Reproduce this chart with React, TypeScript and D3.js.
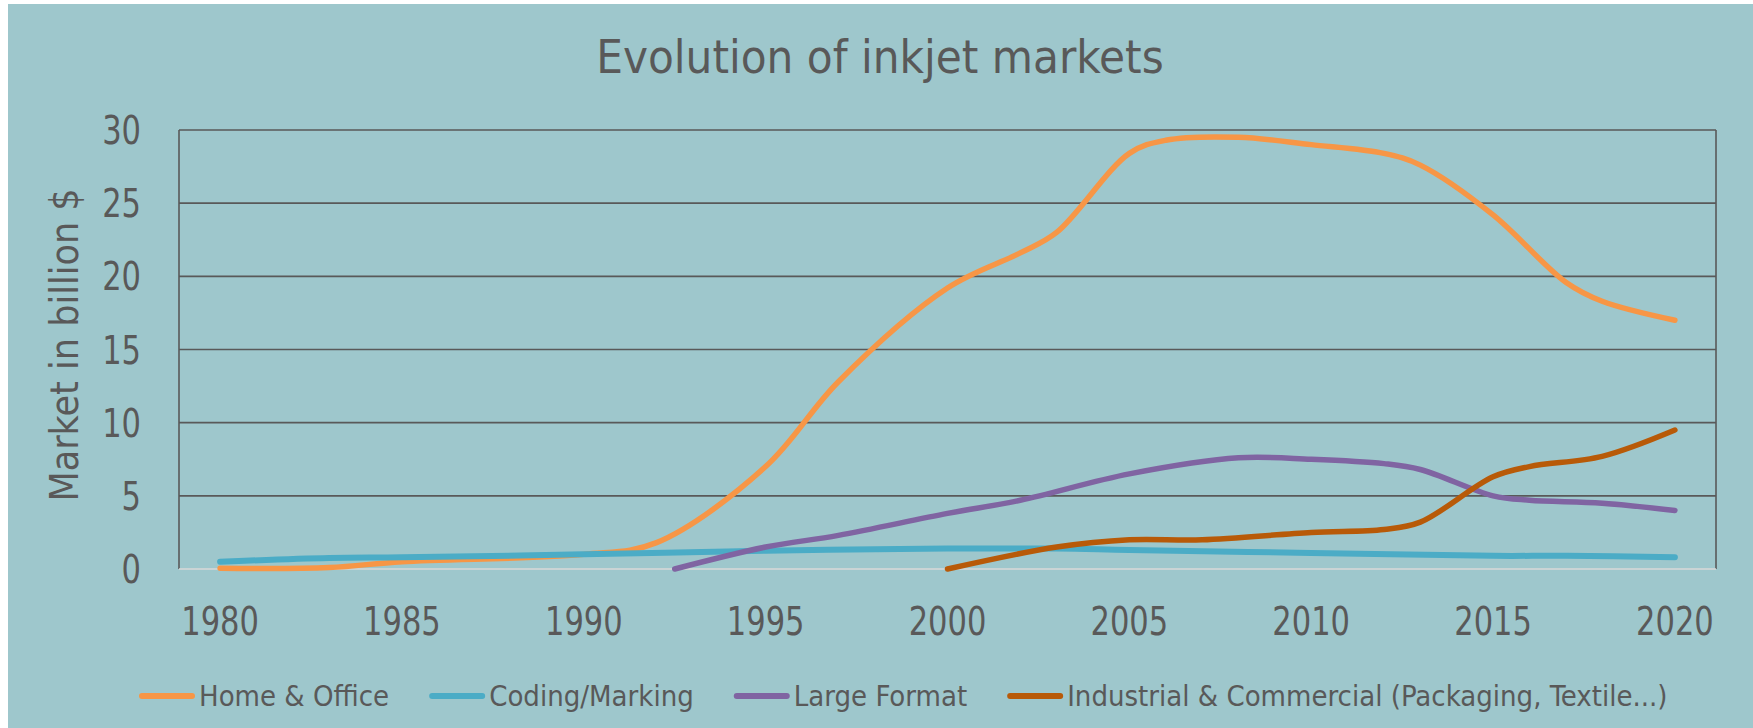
import React, { useEffect, useRef } from 'react';
import * as d3 from 'd3';

const homeYears = [1980, 1983, 1985, 1990, 1992, 1995, 1997, 2000, 2002, 2003, 2005, 2006, 2008, 2010, 2012, 2013, 2015, 2017, 2018, 2020];
const homeValues = [0.05, 0.1, 0.5, 1.0, 1.8, 7.0, 12.8, 19.2, 21.6, 23.0, 28.4, 29.3, 29.5, 29.0, 28.4, 27.6, 24.2, 19.6, 18.3, 17.0];

const codingYears = [1980, 1983, 1985, 1990, 1995, 2000, 2003, 2005, 2010, 2015, 2017, 2020];
const codingValues = [0.5, 0.75, 0.8, 1.0, 1.25, 1.4, 1.4, 1.3, 1.1, 0.9, 0.9, 0.8];

const largeYears = [1992.5, 1995, 1997, 2000, 2002, 2005, 2008, 2010, 2012, 2013, 2015, 2016, 2018, 2020];
const largeValues = [0, 1.5, 2.3, 3.8, 4.7, 6.5, 7.6, 7.5, 7.2, 6.8, 5.0, 4.7, 4.5, 4.0];

const industrialYears = [2000, 2003, 2005, 2007, 2010, 2012, 2013, 2015, 2016, 2018, 2020];
const industrialValues = [0, 1.5, 2.0, 2.0, 2.5, 2.7, 3.2, 6.3, 7.0, 7.7, 9.5];

const seriesNames = ['Home & Office', 'Coding/Marking', 'Large Format', 'Industrial & Commercial (Packaging, Textile...)'];
const seriesColors = ['#F79646', '#4BACC6', '#8064A2', '#B85A08'];

const yTicks = [0, 5, 10, 15, 20, 25, 30];
const xTicks = [1980, 1985, 1990, 1995, 2000, 2005, 2010, 2015, 2020];

const W = 1753;
const H = 728;
const BG = '#9EC7CC';
const TXT = '#595959';
const FONT = "'DejaVu Sans Condensed', 'DejaVu Sans', sans-serif";

function InkjetChart() {
  const svgRef = useRef<SVGSVGElement>(null);

  useEffect(() => {
    const svg = d3.select(svgRef.current);
    svg.selectAll('*').remove();

    const left = 179, right = 1716, top = 130, bottom = 569;
    const pad = 1.13;
    const squeeze = 0.87; // the original font is narrower than DejaVu

    const x = d3.scaleLinear().domain([1980 - pad, 2020 + pad]).range([left, right]);
    const y = d3.scaleLinear().domain([0, 30]).range([bottom, top]);

    svg.append('rect').attr('x', 8).attr('y', 4).attr('width', W - 8).attr('height', H - 4).attr('fill', BG);

    // title
    svg.append('text')
      .attr('x', 880).attr('y', 73)
      .attr('text-anchor', 'middle')
      .attr('font-family', FONT).attr('font-size', 47)
      .attr('fill', TXT)
      .text('Evolution of inkjet markets');

    // gridlines
    svg.append('g').selectAll('line')
      .data(yTicks.filter(d => d > 0))
      .join('line')
      .attr('x1', left).attr('x2', right)
      .attr('y1', d => y(d)).attr('y2', d => y(d))
      .attr('stroke', TXT).attr('stroke-width', 1.6);

    // axes
    svg.append('line').attr('x1', left).attr('x2', left).attr('y1', top).attr('y2', bottom)
      .attr('stroke', TXT).attr('stroke-width', 1.6);
    svg.append('line').attr('x1', right).attr('x2', right).attr('y1', top).attr('y2', bottom)
      .attr('stroke', TXT).attr('stroke-width', 1.6);
    svg.append('line').attr('x1', left).attr('x2', right).attr('y1', bottom).attr('y2', bottom)
      .attr('stroke', '#D9D9D9').attr('stroke-width', 1.6);

    // tick labels
    svg.append('g').selectAll('text')
      .data(yTicks)
      .join('text')
      .attr('transform', d => `translate(141, ${y(d)}) scale(${squeeze}, 1)`)
      .attr('dy', '0.36em')
      .attr('text-anchor', 'end')
      .attr('font-family', FONT).attr('font-size', 39)
      .attr('fill', TXT)
      .text(d => d);

    svg.append('g').selectAll('text')
      .data(xTicks)
      .join('text')
      .attr('transform', d => `translate(${x(d)}, 635) scale(${squeeze}, 1)`)
      .attr('text-anchor', 'middle')
      .attr('font-family', FONT).attr('font-size', 39)
      .attr('fill', TXT)
      .text(d => d);

    // y title
    svg.append('text')
      .attr('transform', `translate(64, 345) rotate(-90)`)
      .attr('dy', '0.36em')
      .attr('text-anchor', 'middle')
      .attr('font-family', FONT).attr('font-size', 39)
      .attr('fill', TXT)
      .text('Market in billion $');

    // lines
    const series = [
      d3.zip(homeYears, homeValues),
      d3.zip(codingYears, codingValues),
      d3.zip(largeYears, largeValues),
      d3.zip(industrialYears, industrialValues),
    ];

    const line = d3.line<number[]>()
      .x(d => x(d[0]))
      .y(d => y(d[1]))
      .curve(d3.curveCatmullRom.alpha(0.5));

    svg.append('g').selectAll('path')
      .data(series)
      .join('path')
      .attr('d', d => line(d) as string)
      .attr('fill', 'none')
      .attr('stroke', (d, i) => seriesColors[i])
      .attr('stroke-width', (d, i) => (i === 1 ? 6 : 5.5))
      .attr('stroke-linecap', 'round')
      .attr('stroke-linejoin', 'round');

    // legend
    const legend = svg.append('g');
    let cx = 142;
    const ly = 696;
    seriesNames.forEach((name, i) => {
      legend.append('line')
        .attr('x1', cx).attr('x2', cx + 50)
        .attr('y1', ly).attr('y2', ly)
        .attr('stroke', seriesColors[i]).attr('stroke-width', 6)
        .attr('stroke-linecap', 'round');
      const t = legend.append('text')
        .attr('x', cx + 57).attr('y', ly)
        .attr('dy', '0.36em')
        .attr('font-family', FONT).attr('font-size', 29)
        .attr('fill', TXT)
        .text(name);
      const w = (t.node() as SVGTextElement).getComputedTextLength();
      cx += 57 + w + 43;
    });
  }, []);

  return <svg ref={svgRef} width={W} height={H} style={{ display: 'block', background: '#fff' }} />;
}

export default function App() {
  return (
    <div style={{ position: 'absolute', left: 0, top: 0 }}>
      <InkjetChart />
    </div>
  );
}
